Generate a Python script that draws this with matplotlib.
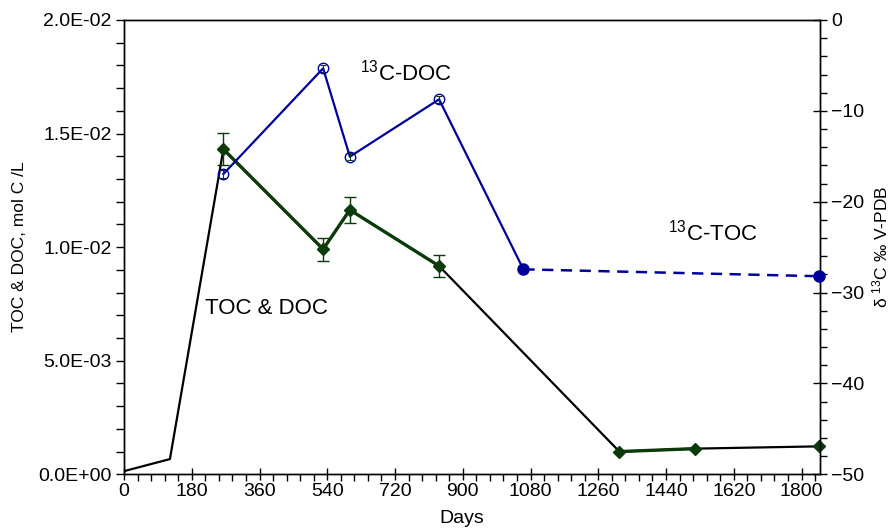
import matplotlib
matplotlib.use("Agg")
import matplotlib.pyplot as plt
from matplotlib.ticker import MultipleLocator, FuncFormatter

plt.rcParams['font.family'] = ['Liberation Sans', 'DejaVu Sans']
plt.rcParams['mathtext.fontset'] = 'custom'
plt.rcParams['mathtext.rm'] = 'Liberation Sans'

# ---- data ----
# TOC & DOC concentration (mol C/L)
toc_days = [5, 122, 264, 529, 600, 837, 1316, 1517, 1846]
toc_vals = [0.00016, 0.00067, 0.01431, 0.00991, 0.01164, 0.00917, 0.00100, 0.00113, 0.00123]
# segments drawn in green (with diamonds) vs black
green_a_days = [264, 529, 600, 837]
green_a_vals = [0.01431, 0.00991, 0.01164, 0.00917]
green_a_err = [0.0007, 0.0005, 0.00057, 0.0005]
green_b_days = [1316, 1517]
green_b_vals = [0.00100, 0.00113]
diamond_days = [264, 529, 600, 837, 1316, 1517, 1846]
diamond_vals = [0.01431, 0.00991, 0.01164, 0.00917, 0.00100, 0.00113, 0.00123]

# delta 13C (permil V-PDB)
doc13_days = [264, 529, 600, 837, 1061]
doc13_vals = [-16.95, -5.32, -15.04, -8.73, -27.44]
doc13_err = [0.4, 0.4, 0.4, 0.4]
toc13_days = [1061, 1846]
toc13_vals = [-27.44, -28.2]

BLACK = '#000000'
GREEN = '#0b3a0b'
BLUE = '#00009c'

fig = plt.figure(figsize=(8.96, 5.32), dpi=100)
ax = fig.add_axes([124/896, 1-474.3/532, (820-124)/896, (474.3-20)/532])
ax2 = ax.twinx()

# black full line
ax.plot(toc_days, toc_vals, color=BLACK, lw=1.6, zorder=2)
# green segments
ax.plot(green_a_days, green_a_vals, color=GREEN, lw=2.4, zorder=3)
ax.plot(green_b_days, green_b_vals, color=GREEN, lw=2.4, zorder=3)
ax.errorbar(green_a_days, green_a_vals, yerr=green_a_err, fmt='none',
            ecolor=GREEN, elinewidth=1.0, capsize=4.5, capthick=1.0, zorder=3)
ax.plot(diamond_days, diamond_vals, linestyle='none', marker='D', ms=6.5,
        color=GREEN, mec=GREEN, zorder=4, clip_on=False)

# blue 13C
ax2.plot(doc13_days, doc13_vals, color=BLUE, lw=1.6, zorder=2)
ax2.errorbar(doc13_days[:4], doc13_vals[:4], yerr=doc13_err, fmt='none',
             ecolor=GREEN, elinewidth=0.8, capsize=2.5, capthick=0.8, zorder=3)
ax2.plot(doc13_days[:4], doc13_vals[:4], linestyle='none', marker='o', ms=7.5,
         mfc='none', mec=BLUE, mew=1.0, zorder=4)
ax2.plot(toc13_days, toc13_vals, color=BLUE, lw=1.8, ls=(0, (4.5, 3)), zorder=2)
ax2.plot(toc13_days, toc13_vals, linestyle='none', marker='o', ms=8,
         color=BLUE, zorder=4, clip_on=False)

ax.set_xlim(0, 1849)
ax.set_ylim(0, 0.02)
ax2.set_ylim(-50, 0)

ax.xaxis.set_major_locator(MultipleLocator(180))
ax.xaxis.set_minor_locator(MultipleLocator(36))
ax.yaxis.set_major_locator(MultipleLocator(0.005))
ax.yaxis.set_minor_locator(MultipleLocator(0.001))
ax.yaxis.set_major_formatter(FuncFormatter(lambda v, p: '{:.1E}'.format(v)))
ax2.yaxis.set_major_locator(MultipleLocator(10))
ax2.yaxis.set_minor_locator(MultipleLocator(2))

ax.tick_params(axis='x', which='major', direction='inout', length=9, width=1, labelsize=14, pad=2)
ax.tick_params(axis='x', which='minor', direction='out', length=5, width=1)
ax.tick_params(axis='y', which='major', direction='out', length=6, width=1, labelsize=14, pad=3)
ax.tick_params(axis='y', which='minor', direction='out', length=6, width=1)
ax2.tick_params(axis='y', which='major', direction='inout', length=10, width=1, labelsize=14, pad=3)
ax2.tick_params(axis='y', which='minor', direction='out', length=5, width=1)

for a in (ax, ax2):
    for s in a.spines.values():
        s.set_linewidth(1.0)

ax.set_xlabel('Days', fontsize=14, labelpad=0)
ax.xaxis.set_label_coords(0.485, -0.078)
ax.set_ylabel('TOC & DOC, mol C /L', fontsize=12.5)
ax.yaxis.set_label_coords(-0.14, 0.5)
ax2.set_ylabel(r'δ $\mathregular{^{13}}$C ‰ V-PDB', fontsize=12.5, rotation=90)
ax2.yaxis.set_label_coords(1.072, 0.5)

ax.text(215, 0.00706, 'TOC & DOC', fontsize=16, va='baseline', ha='left')
ax.text(627, 0.01735, r'$\mathregular{^{13}}$C-DOC', fontsize=16, va='baseline', ha='left')
ax.text(1445, 0.0103, r'$\mathregular{^{13}}$C-TOC', fontsize=16, va='baseline', ha='left')

fig.savefig('out.png', dpi=100)
